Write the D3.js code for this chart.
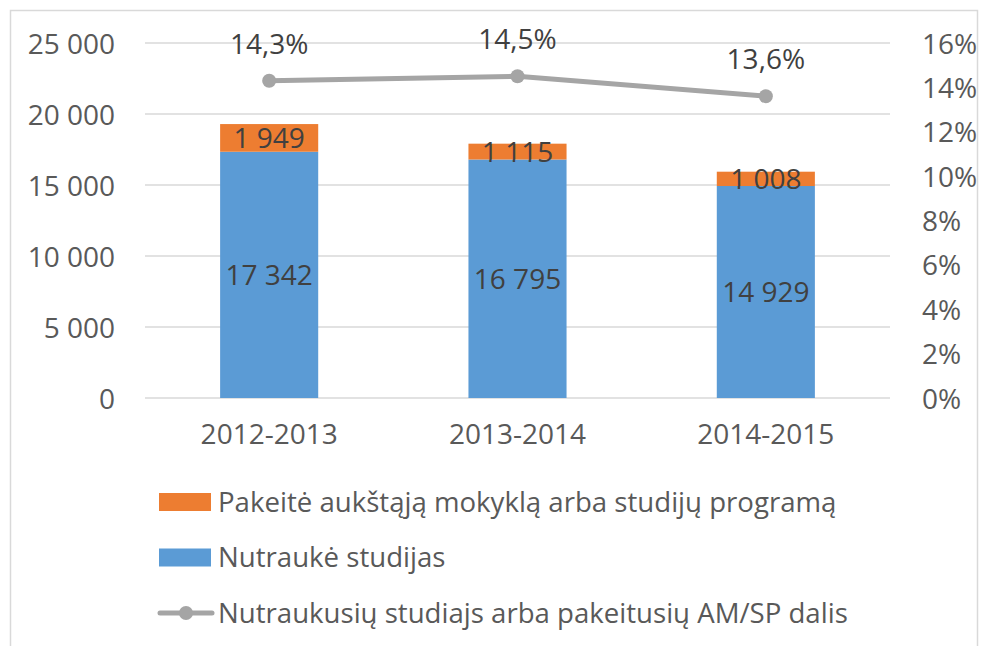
<!DOCTYPE html>
<html>
<head>
<meta charset="utf-8">
<script src="https://cdn.jsdelivr.net/npm/d3@7"></script>
<style>
  body { margin: 0; background: #fff; }
  svg { display: block; }
</style>
</head>
<body>
<div class="chart"></div>
<script>
const years = ["2012-2013", "2013-2014", "2014-2015"];
const dropped = [17342, 16795, 14929];
const changed = [1949, 1115, 1008];
const share = [14.3, 14.5, 13.6];
const leftTicks = [0, 5000, 10000, 15000, 20000, 25000];
const rightTicks = [0, 2, 4, 6, 8, 10, 12, 14, 16];
const legendLabels = [
  "Pakeitė aukštąją mokyklą arba studijų programą",
  "Nutraukė studijas",
  "Nutraukusių studiajs arba pakeitusių AM/SP dalis"
];

const width = 983,
  height = 646,
  blueColor = "#5B9BD5",
  orangeColor = "#ED7D31",
  greyColor = "#A5A5A5",
  gridColor = "#D9D9D9",
  textColor = "#404040",
  axisTextColor = "#595959",
  font = "'Open Sans', 'Liberation Sans', sans-serif";

const plot = { left: 145, right: 890, top: 43, bottom: 398 };

const svg = d3
  .select(".chart")
  .append("svg")
  .attr("width", width)
  .attr("height", height);

// chart frame
svg
  .append("path")
  .attr("d", `M10.5,${height} V10.5 H977.5 V${height}`)
  .attr("fill", "none")
  .attr("stroke", gridColor)
  .attr("stroke-width", 1.5);

const x = d3
  .scaleBand()
  .domain(years)
  .range([plot.left, plot.right])
  .paddingInner(0.605)
  .paddingOuter(0.3025);

const yLeft = d3
  .scaleLinear()
  .domain([0, 25000])
  .range([plot.bottom, plot.top]);

const yRight = d3
  .scaleLinear()
  .domain([0, 16])
  .range([plot.bottom, plot.top]);

const fmt = (v) => d3.format(",")(v).replace(/,/g, " ");

// gridlines
svg
  .append("g")
  .selectAll("line")
  .data(leftTicks)
  .enter()
  .append("line")
  .attr("x1", plot.left)
  .attr("x2", plot.right)
  .attr("y1", (d) => yLeft(d))
  .attr("y2", (d) => yLeft(d))
  .attr("stroke", gridColor)
  .attr("stroke-width", 1.5);

// left axis
const leftAxis = svg
  .append("g")
  .attr("transform", `translate(${plot.left - 30}, 0)`)
  .call(d3.axisLeft(yLeft).tickValues(leftTicks).tickSize(0).tickPadding(0).tickFormat(fmt));
leftAxis.select(".domain").remove();
leftAxis
  .selectAll("text")
  .attr("fill", axisTextColor)
  .attr("dy", "0.36em")
  .style("font", `28px ${font}`);

// right axis
const rightAxis = svg
  .append("g")
  .attr("transform", `translate(${plot.right + 32}, 0)`)
  .call(d3.axisRight(yRight).tickValues(rightTicks).tickSize(0).tickPadding(0).tickFormat((d) => d + "%"));
rightAxis.select(".domain").remove();
rightAxis
  .selectAll("text")
  .attr("fill", axisTextColor)
  .attr("dy", "0.36em")
  .style("font", `28px ${font}`);

// bottom axis
const bottomAxis = svg
  .append("g")
  .attr("transform", `translate(0, ${plot.bottom + 21})`)
  .call(d3.axisBottom(x).tickSize(0).tickPadding(0));
bottomAxis.select(".domain").remove();
bottomAxis
  .selectAll("text")
  .attr("fill", axisTextColor)
  .attr("dy", "0.9em")
  .style("font", `28px ${font}`);

// stacked bars
svg
  .selectAll(".blue-bar")
  .data(years)
  .enter()
  .append("rect")
  .attr("x", (d) => x(d))
  .attr("width", x.bandwidth())
  .attr("y", (d, i) => yLeft(dropped[i]))
  .attr("height", (d, i) => yLeft(0) - yLeft(dropped[i]))
  .attr("fill", blueColor);

svg
  .selectAll(".orange-bar")
  .data(years)
  .enter()
  .append("rect")
  .attr("x", (d) => x(d))
  .attr("width", x.bandwidth())
  .attr("y", (d, i) => yLeft(dropped[i] + changed[i]))
  .attr("height", (d, i) => yLeft(dropped[i]) - yLeft(dropped[i] + changed[i]))
  .attr("fill", orangeColor);

// bar labels
svg
  .selectAll(".blue-label")
  .data(years)
  .enter()
  .append("text")
  .attr("x", (d) => x(d) + x.bandwidth() / 2)
  .attr("y", (d, i) => yLeft(dropped[i] / 2))
  .attr("dy", "0.36em")
  .attr("text-anchor", "middle")
  .attr("fill", textColor)
  .style("font", `28px ${font}`)
  .text((d, i) => fmt(dropped[i]));

svg
  .selectAll(".orange-label")
  .data(years)
  .enter()
  .append("text")
  .attr("x", (d) => x(d) + x.bandwidth() / 2)
  .attr("y", (d, i) => yLeft(dropped[i] + changed[i] / 2))
  .attr("dy", "0.36em")
  .attr("text-anchor", "middle")
  .attr("fill", textColor)
  .style("font", `28px ${font}`)
  .text((d, i) => fmt(changed[i]));

// share line
const shareLine = d3
  .line()
  .x((d, i) => x(years[i]) + x.bandwidth() / 2)
  .y((d) => yRight(d));

svg
  .append("path")
  .attr("d", shareLine(share))
  .attr("stroke", greyColor)
  .attr("stroke-width", 5)
  .attr("stroke-linecap", "round")
  .attr("fill", "none");

svg
  .selectAll(".share-dot")
  .data(share)
  .enter()
  .append("circle")
  .attr("cx", (d, i) => x(years[i]) + x.bandwidth() / 2)
  .attr("cy", (d) => yRight(d))
  .attr("r", 7)
  .attr("fill", greyColor);

svg
  .selectAll(".share-label")
  .data(share)
  .enter()
  .append("text")
  .attr("x", (d, i) => x(years[i]) + x.bandwidth() / 2)
  .attr("y", (d) => yRight(d) - 27)
  .attr("text-anchor", "middle")
  .attr("fill", textColor)
  .style("font", `28px ${font}`)
  .text((d) => d3.format(".1f")(d).replace(".", ",") + "%");

// legend
const legend = svg
  .append("g")
  .selectAll("g")
  .data(legendLabels)
  .enter()
  .append("g")
  .attr("transform", (d, i) => `translate(159, ${502 + i * 55.5})`);

legend
  .filter((d, i) => i < 2)
  .append("rect")
  .attr("x", 0)
  .attr("y", -9)
  .attr("width", 52)
  .attr("height", 18)
  .attr("fill", (d, i) => (i === 0 ? orangeColor : blueColor));

const lineKey = legend.filter((d, i) => i === 2);
lineKey
  .append("line")
  .attr("x1", 1)
  .attr("x2", 53)
  .attr("stroke", greyColor)
  .attr("stroke-width", 5)
  .attr("stroke-linecap", "round");
lineKey
  .append("circle")
  .attr("cx", 27)
  .attr("r", 7)
  .attr("fill", greyColor);

legend
  .append("text")
  .attr("x", 59)
  .attr("dy", "0.36em")
  .attr("fill", axisTextColor)
  .style("font", `27.6px ${font}`)
  .text((d) => d);
</script>
</body>
</html>
